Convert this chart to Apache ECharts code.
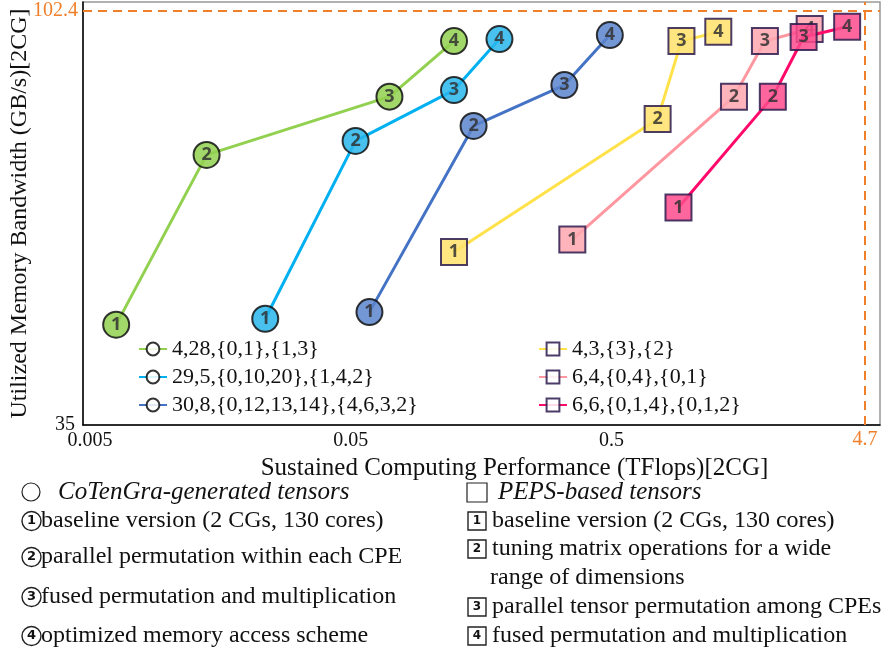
<!DOCTYPE html>
<html><head><meta charset="utf-8">
<script src="https://cdn.jsdelivr.net/npm/echarts@6/dist/echarts.min.js"></script>
<style>html,body{margin:0;padding:0;background:#fff}#c{width:882px;height:653px}</style>
</head><body><div id="c"></div>
<script>
// ---- data ----
const seriesNames = ['4,28,{0,1},{1,3}', '29,5,{0,10,20},{1,4,2}', '30,8,{0,12,13,14},{4,6,3,2}',
                     '4,3,{3},{2}', '6,4,{0,4},{0,1}', '6,6,{0,1,4},{0,1,2}'];
const steps = [1, 2, 3, 4];
// Sustained computing performance (TFlops)
const perfA = [0.0063, 0.0140, 0.0704, 0.1245];
const perfB = [0.0235, 0.0522, 0.1245, 0.186];
const perfC = [0.059, 0.148, 0.330, 0.493];
const perfD = [0.1245, 0.752, 0.928, 1.285];
const perfE = [0.354, 1.476, 1.94, 2.88];
const perfF = [0.904, 2.08, 2.73, 4.01];
// Utilized memory bandwidth (GB/s)
const bwA = [45.4, 70.5, 82.0, 94.7];
const bwB = [46.1, 73.1, 83.4, 95.2];
const bwC = [46.9, 76.0, 84.5, 96.2];
const bwD = [54.8, 77.4, 94.7, 97.0];
const bwE = [56.6, 82.0, 94.7, 97.7];
const bwF = [61.5, 82.0, 95.7, 98.3];
const xTicks = [0.005, 0.05, 0.5];
const yTicks = [35];
const peakPerf = 4.7;
const peakBw = 102.4;

// ---- styling ----
const lineColors = ['#92d050', '#00b0f0', '#4472c4', '#ffe14a', '#ff97a0', '#ff0a6a'];
const fillColors = ['#92d050', '#29b6ec', '#5b84cc', '#ffe26b', '#ffa7b0', '#ff4b8d'];
const shapes = ['circle', 'circle', 'circle', 'rect', 'rect', 'rect'];
const borders = ['#111', '#111', '#111', '#2d1b4e', '#2d1b4e', '#2d1b4e'];
const perfs = [perfA, perfB, perfC, perfD, perfE, perfF];
const bws = [bwA, bwB, bwC, bwD, bwE, bwF];

const serif = 'Liberation Serif';
const series = seriesNames.map((name, i) => ({
  name, type: 'line', symbol: shapes[i], symbolSize: 26,
  data: perfs[i].map((x, k) => [x, bws[i][k], steps[k]]),
  lineStyle: { color: lineColors[i], width: 3 },
  itemStyle: { color: fillColors[i], borderColor: borders[i], borderWidth: 2, opacity: 0.85 },
  label: { show: true, position: 'inside', formatter: p => p.value[2],
           fontFamily: 'Noto Sans', fontWeight: 'bold', fontSize: 18, color: '#333' },
  emphasis: { disabled: true },
  z: 2 + i,
  markLine: i === 0 ? {
    silent: true, symbol: 'none',
    lineStyle: { color: '#f07f2a', type: [9, 6], width: 2 },
    label: { position: 'start', color: '#f07f2a', fontFamily: serif, fontSize: 20, distance: 5 },
    data: [
      { yAxis: peakBw, label: { formatter: String(peakBw) } },
      { xAxis: peakPerf, label: { formatter: String(peakPerf) } }
    ]
  } : undefined
}));

const legendCommon = {
  orient: 'vertical', itemWidth: 28, itemHeight: 16, itemGap: 6,
  textStyle: { fontFamily: serif, fontSize: 22, color: '#111' },
  padding: 0
};

function circled(n) { return '{c|' + n + '}'; }
function boxed(n) { return '{b|' + n + '}'; }
const richNum = {
  c: { width: 19, height: 19, borderRadius: 10, borderColor: '#222', borderWidth: 1.4,
       align: 'center', verticalAlign: 'middle', fontSize: 13, fontFamily: 'DejaVu Sans', fontWeight: 'bold', color: '#111', lineHeight: 19 },
  b: { width: 18, height: 18, borderColor: '#222', borderWidth: 1.4,
       align: 'center', verticalAlign: 'middle', fontSize: 12, fontFamily: 'DejaVu Sans', fontWeight: 'bold', color: '#111', lineHeight: 18 }
};
function txt(x, y, text, italic) {
  return { type: 'text', x, y, style: { text, fontFamily: serif, fontSize: italic ? 25 : 24, fill: '#111',
           fontStyle: italic ? 'italic' : 'normal', rich: richNum, verticalAlign: 'middle' } };
}

const chart = echarts.init(document.getElementById('c'), null, { renderer: 'canvas' });
chart.setOption({
  backgroundColor: '#fff',
  animation: false,
  grid: { left: 82, right: 2, top: 2, bottom: 228, show: true, borderColor: '#999', borderWidth: 1.5 },
  xAxis: {
    type: 'log', min: 0.0047, max: 5.36,
    name: 'Sustained Computing Performance (TFlops)[2CG]', nameLocation: 'middle', nameGap: 27,
    nameTextStyle: { fontFamily: serif, fontSize: 25, color: '#111', padding: [0, 0, 0, 66] },
    axisLine: { show: true, lineStyle: { color: '#000', width: 1.5 } },
    axisTick: { show: false }, splitLine: { show: false }, minorSplitLine: { show: false },
    axisLabel: { customValues: xTicks, fontFamily: serif, fontSize: 20, color: '#111', margin: 6 }
  },
  yAxis: {
    type: 'log', min: 35, max: 104.8,
    name: 'Utilized Memory Bandwidth (GB/s)[2CG]', nameLocation: 'middle', nameGap: 51,
    nameTextStyle: { fontFamily: serif, fontSize: 24, color: '#111' },
    axisLine: { show: true, lineStyle: { color: '#000', width: 1.5 } },
    axisTick: { show: false }, splitLine: { show: false },
    axisLabel: { customValues: yTicks, fontFamily: serif, fontSize: 20, color: '#111', margin: 8 }
  },
  legend: [
    Object.assign({ left: 138, top: 338, data: seriesNames.slice(0, 3) }, legendCommon,
      { itemStyle: { color: '#fff', borderColor: '#111', borderWidth: 2 } }),
    Object.assign({ left: 538, top: 338, data: seriesNames.slice(3) }, legendCommon,
      { itemStyle: { color: '#fff', borderColor: '#2d1b4e', borderWidth: 2 } })
  ],
  series,
  graphic: [
    { type: 'circle', shape: { cx: 31, cy: 492, r: 9 }, style: { fill: 'none', stroke: '#222', lineWidth: 1.2 } },
    txt(58, 492, 'CoTenGra-generated tensors', true),
    txt(22, 521, circled(1) + 'baseline version (2 CGs, 130 cores)'),
    txt(22, 557, circled(2) + 'parallel permutation within each CPE'),
    txt(22, 597, circled(3) + 'fused permutation and multiplication'),
    txt(22, 636, circled(4) + 'optimized memory access scheme'),
    { type: 'rect', shape: { x: 467, y: 483, width: 20, height: 19 }, style: { fill: 'none', stroke: '#222', lineWidth: 1.2 } },
    txt(498, 492, 'PEPS-based tensors', true),
    txt(468, 521, boxed(1) + ' baseline version (2 CGs, 130 cores)'),
    txt(468, 549, boxed(2) + ' tuning matrix operations for a wide'),
    txt(490, 578, 'range of dimensions'),
    txt(468, 607, boxed(3) + ' parallel tensor permutation among CPEs'),
    txt(468, 636, boxed(4) + ' fused permutation and multiplication')
  ]
});
</script></body></html>
